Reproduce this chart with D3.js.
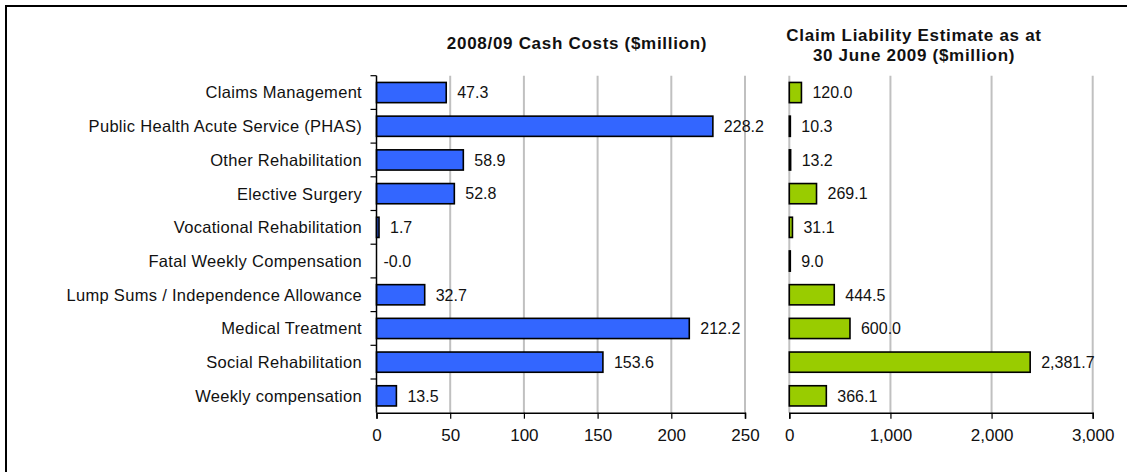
<!DOCTYPE html>
<html><head><meta charset="utf-8">
<script src="https://cdn.jsdelivr.net/npm/d3@7"></script>
<style>
body{margin:0;background:#fff;}
svg text{font-family:"Liberation Sans",Arial,sans-serif;fill:#111;}
</style></head>
<body><svg id="c" width="1127" height="472"></svg>
<script>
const categories = ["Claims Management","Public Health Acute Service (PHAS)","Other Rehabilitation","Elective Surgery","Vocational Rehabilitation","Fatal Weekly Compensation","Lump Sums / Independence Allowance","Medical Treatment","Social Rehabilitation","Weekly compensation"];
const cashCosts = [47.3,228.2,58.9,52.8,1.7,-0.0,32.7,212.2,153.6,13.5];
const liability = [120.0,10.3,13.2,269.1,31.1,9.0,444.5,600.0,2381.7,366.1];
const cashTicks = [0,50,100,150,200,250];
const liabTicks = [0,1000,2000,3000];
const cashTitle = ["2008/09 Cash Costs ($million)"];
const liabTitle = ["Claim Liability Estimate as at","30 June 2009 ($million)"];

const svg = d3.select("#c");
svg.append("rect").attr("x",6).attr("y",6).attr("width",1130).attr("height",480)
  .attr("fill","none").attr("stroke","#000").attr("stroke-width",2);

const plotTop=75.7, plotBottom=412.7;
const y = d3.scaleBand().domain(categories).range([plotTop,plotBottom]).paddingInner(0.4).paddingOuter(0.2);
const yBand = d3.scaleBand().domain(categories).range([plotTop,plotBottom]);

function fmtCash(d){ return Object.is(d,-0) ? "-0.0" : d3.format(".1f")(d); }

function panel(x0,x1,domain,values,ticks,fmtTick,fmtVal,color,showYAxis){
  const x = d3.scaleLinear().domain(domain).range([x0,x1]);
  const g = svg.append("g");
  g.selectAll("line.grid").data(ticks.filter(t=> showYAxis ? t!==0 : true)).enter().append("line")
    .attr("x1",d=>x(d)).attr("x2",d=>x(d)).attr("y1",plotTop).attr("y2",plotBottom)
    .attr("stroke","#c0c0c0").attr("stroke-width",2);
  const data = categories.map((c,i)=>({c,v:values[i]}));
  g.selectAll("rect.bar").data(data.filter(d=>Math.abs(d.v)>=0.05)).enter().append("rect")
    .attr("x",x(0)).attr("y",d=>y(d.c))
    .attr("width",d=>Math.max(1,x(d.v)-x(0))).attr("height",y.bandwidth())
    .attr("fill",color).attr("stroke","#000").attr("stroke-width",1.6);
  g.selectAll("text.val").data(data).enter().append("text")
    .attr("x",d=>Math.max(x(d.v),x(0))+ (Math.abs(d.v)<0.05?7:11))
    .attr("y",d=>y(d.c)+y.bandwidth()/2).attr("dy","0.36em")
    .attr("font-size",16).text(d=>fmtVal(d.v));
  const ax = g.append("g").attr("transform",`translate(0,${plotBottom})`)
    .call(d3.axisBottom(x).tickValues(ticks).tickFormat(fmtTick).tickSizeOuter(0).tickSize(6).tickPadding(10));
  ax.select(".domain").attr("stroke","#000").attr("stroke-width",1.5);
  ax.selectAll(".tick line").attr("stroke","#000").attr("stroke-width",1.2);
  ax.selectAll("text").attr("font-size",17).attr("font-family","Liberation Sans, Arial, sans-serif").attr("fill","#111");
  if(showYAxis){
    const ay = g.append("g").attr("transform",`translate(${x0},0)`);
    ay.append("line").attr("x1",0).attr("x2",0).attr("y1",plotTop).attr("y2",plotBottom).attr("stroke","#000").attr("stroke-width",1.5);
    const bounds = categories.map(c=>yBand(c));
    ay.selectAll("line.t").data(bounds).enter().append("line")
      .attr("x1",-6).attr("x2",0).attr("y1",d=>d).attr("y2",d=>d).attr("stroke","#000").attr("stroke-width",1.2);
    svg.append("g").selectAll("text").data(categories).enter().append("text")
      .attr("x",362).attr("y",d=>yBand(d)+yBand.bandwidth()/2).attr("dy","0.36em")
      .attr("text-anchor","end").attr("font-size",16.5).attr("letter-spacing","0.3px").text(d=>d);
  }
  return x;
}

panel(376.5,745,[0,250],cashCosts,cashTicks,d3.format("d"),fmtCash,"#3366ff",true);
panel(789.3,1092.7,[0,3000],liability,liabTicks,d3.format(","),d3.format(",.1f"),"#99cc00",false);

svg.append("text").attr("x",577).attr("y",49).attr("text-anchor","middle")
  .attr("font-size",17).attr("letter-spacing","0.7px").attr("font-weight","bold").text(cashTitle[0]);
svg.selectAll("text.lt").data(liabTitle).enter().append("text")
  .attr("x",914).attr("y",(d,i)=>40.5+i*20.5).attr("text-anchor","middle")
  .attr("font-size",17).attr("letter-spacing","0.7px").attr("font-weight","bold").text(d=>d);
</script></body></html>
